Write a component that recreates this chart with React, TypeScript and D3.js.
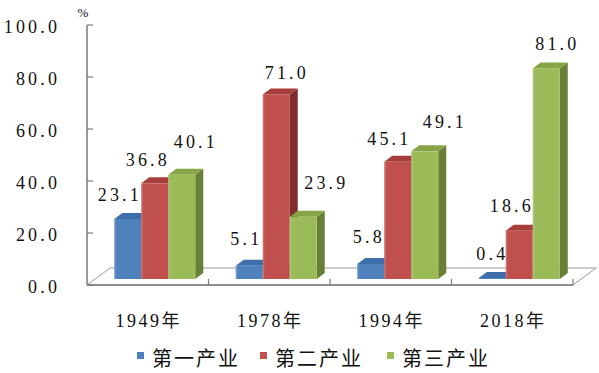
import React from "react";
import * as d3 from "d3";

const categories = ["1949年", "1978年", "1994年", "2018年"];
const seriesNames = ["第一产业", "第二产业", "第三产业"];
const primary = [23.1, 5.1, 5.8, 0.4];
const secondary = [36.8, 71.0, 45.1, 18.6];
const tertiary = [40.1, 23.9, 49.1, 81.0];
const yTicks = [0, 20, 40, 60, 80, 100];

// layout-only nudges for value labels [dx from bar centre, px above bar top]
const labelNudge: [number, number][][] = [
  [[-9.5, 18], [-8.5, 17], [12.5, 27]],
  [[-4.5, 21], [9, 15], [21.5, 28]],
  [[-3.5, 21], [-10, 17], [18.5, 23]],
  [[-1.5, 18], [-9, 19], [9.5, 18]],
];

const colors = [
  { front: "#4F81BD", top: "#3F6FAA", side: "#2F5589" },
  { front: "#C0504D", top: "#A73E3B", side: "#7E2E2C" },
  { front: "#9BBB59", top: "#85A546", side: "#677F36" },
];

const W = 599;
const H = 373;

export default function App() {
  const seriesValues = [primary, secondary, tertiary];
  const x0 = 87, x1 = 573;
  const x = d3.scaleBand<string>().domain(categories).range([x0, x1]).padding(0);
  const xs = d3.scaleBand<string>().domain(seriesNames).range([0, x.bandwidth()]).paddingInner(0).paddingOuter(0.75);
  const y = d3.scaleLinear().domain([0, 100]).range([285, 25]);

  const floorDx = 23, floorDy = -17;
  const offX = 7, offY = -6;
  const bdx = 8, bdy = -6;

  const numStyle: React.CSSProperties = { fontFamily: '"Liberation Serif", "Noto Sans CJK SC", serif' };
  const ls = 3.2;

  const bars: React.ReactNode[] = [];
  const labels: React.ReactNode[] = [];
  categories.forEach((c, ci) => {
    seriesNames.forEach((s, si) => {
      const v = seriesValues[si][ci];
      const left = (x(c) as number) + (xs(s) as number) + offX;
      const w = xs.bandwidth();
      const bottom = y(0) + offY;
      const top = y(v) + offY;
      const col = colors[si];
      bars.push(
        <g key={`b${ci}-${si}`}>
          <polygon
            points={`${left + w},${top} ${left + w + bdx},${top + bdy} ${left + w + bdx},${bottom + bdy} ${left + w},${bottom}`}
            fill={col.side}
          />
          <polygon
            points={`${left},${top} ${left + bdx},${top + bdy} ${left + w + bdx},${top + bdy} ${left + w},${top}`}
            fill={col.top}
          />
          <rect x={left} y={top} width={w} height={bottom - top} fill={col.front} />
          <rect x={left} y={top} width={1.5} height={bottom - top} fill="#ffffff" opacity={0.18} />
        </g>
      );
      const [ndx, nup] = labelNudge[ci][si];
      labels.push(
        <text
          key={`l${ci}-${si}`}
          x={left + w / 2 + ndx + ls / 2}
          y={top - nup}
          textAnchor="middle"
          style={numStyle}
          fontSize={18}
          letterSpacing={ls}
          fill="#111"
        >
          {v.toFixed(1)}
        </text>
      );
    });
  });

  const legendX = [137, 260, 387];

  return (
    <svg width={W} height={H} style={{ display: "block", position: "absolute", left: 0, top: 0 }}>
      <rect width={W} height={H} fill="#ffffff" />
      <polygon
        points={`${x0},${y(0)} ${x1},${y(0)} ${x1 + floorDx},${y(0) + floorDy} ${x0 + floorDx},${y(0) + floorDy}`}
        fill="#ffffff"
        stroke="#9a9a9a"
        strokeWidth={1}
      />
      <line x1={x0} x2={x1} y1={y(0)} y2={y(0)} stroke="#7a7a7a" strokeWidth={1.5} />
      {categories.map((c) => {
        const tx = (x(c) as number) + x.bandwidth();
        return <line key={`ct${c}`} x1={tx} x2={tx} y1={y(0)} y2={y(0) - 6} stroke="#7a7a7a" strokeWidth={1.2} />;
      })}
      <line x1={x0} x2={x0} y1={y(100)} y2={y(0)} stroke="#7a7a7a" strokeWidth={1.5} />
      {yTicks.map((t) => (
        <g key={`yt${t}`}>
          <line x1={x0} x2={x0 + 6} y1={y(t)} y2={y(t)} stroke="#7a7a7a" strokeWidth={1.2} />
          <text
            x={57 + ls}
            y={y(t) + 8}
            textAnchor="end"
            style={numStyle}
            fontSize={18}
            letterSpacing={ls}
            fill="#111"
          >
            {t.toFixed(1)}
          </text>
        </g>
      ))}
      <text x={83} y={17} textAnchor="middle" style={numStyle} fontSize={13} fill="#111">
        %
      </text>
      {bars}
      {labels}
      {categories.map((c) => (
        <text
          key={`cl${c}`}
          x={(x(c) as number) + x.bandwidth() / 2 + 1}
          y={327}
          textAnchor="middle"
          style={numStyle}
          fontSize={18}
          letterSpacing={2.5}
          fill="#111"
        >
          {c}
        </text>
      ))}
      {seriesNames.map((s, i) => (
        <g key={`lg${s}`}>
          <rect x={legendX[i]} y={352} width={7} height={7} fill={colors[i].front} />
          <text
            x={legendX[i] + 15}
            y={366}
            style={{ fontFamily: '"Noto Sans CJK SC", sans-serif' }}
            fontSize={20}
            letterSpacing={2}
            fill="#111"
          >
            {s}
          </text>
        </g>
      ))}
    </svg>
  );
}
